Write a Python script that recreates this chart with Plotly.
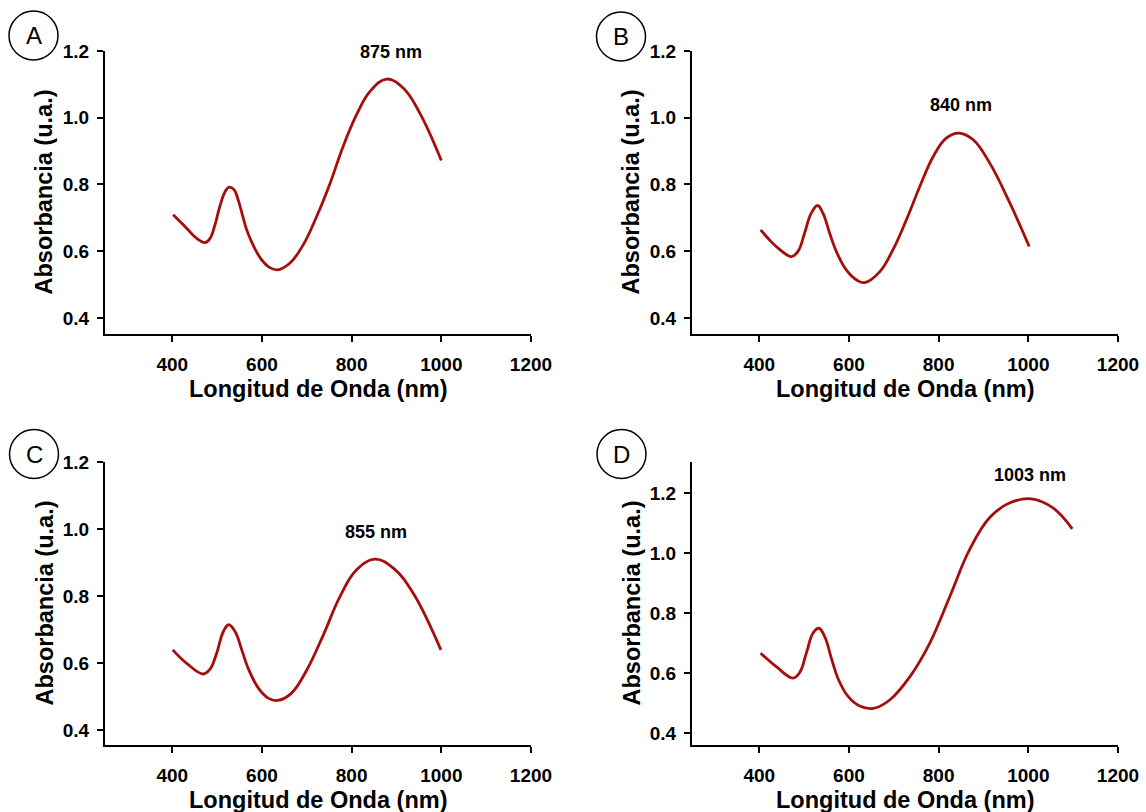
import plotly.graph_objects as go

W, H = 1146, 812

# ---------------- data ----------------
WL_A = [402, 432, 454, 473, 484, 495, 506, 518, 527, 538, 547, 557, 566, 577, 588, 600, 615, 634, 662, 692, 722, 752, 781, 811, 841, 878, 915, 952, 1000]
ABS_A = [0.709, 0.669, 0.639, 0.626, 0.638, 0.678, 0.734, 0.779, 0.792, 0.784, 0.754, 0.706, 0.664, 0.628, 0.598, 0.573, 0.553, 0.544, 0.564, 0.619, 0.704, 0.804, 0.914, 1.009, 1.079, 1.116, 1.089, 1.014, 0.872]

WL_B = [403, 420, 438, 472, 487, 501, 516, 530, 542, 557, 572, 594, 617, 635, 669, 698, 728, 758, 788, 817, 845, 877, 914, 959, 1002]
ABS_B = [0.664, 0.638, 0.614, 0.584, 0.601, 0.654, 0.714, 0.737, 0.714, 0.654, 0.599, 0.544, 0.514, 0.506, 0.539, 0.604, 0.694, 0.794, 0.884, 0.939, 0.954, 0.934, 0.864, 0.744, 0.614]

WL_C = [401, 432, 469, 484, 499, 514, 526, 540, 555, 569, 592, 614, 635, 666, 700, 737, 774, 811, 852, 893, 937, 999]
ABS_C = [0.639, 0.599, 0.567, 0.581, 0.629, 0.694, 0.714, 0.694, 0.639, 0.585, 0.525, 0.495, 0.488, 0.510, 0.579, 0.684, 0.798, 0.878, 0.910, 0.883, 0.809, 0.639]

WL_D = [403, 438, 475, 490, 505, 520, 533, 546, 561, 576, 598, 624, 654, 691, 736, 780, 825, 869, 914, 959, 1007, 1055, 1098]
ABS_D = [0.666, 0.621, 0.583, 0.601, 0.666, 0.733, 0.749, 0.721, 0.648, 0.580, 0.522, 0.490, 0.482, 0.510, 0.588, 0.699, 0.855, 1.011, 1.118, 1.167, 1.180, 1.150, 1.080]

PANELS = ["A", "B", "C", "D"]
PEAK_LABELS = ["875 nm", "840 nm", "855 nm", "1003 nm"]
PEAK_POS = [(888, 1.198), (849, 1.039), (854, 0.992), (1003, 1.261)]
X_TICKS = [400, 600, 800, 1000, 1200]
Y_TICKS = [0.4, 0.6, 0.8, 1.0, 1.2]
X_LABEL = "Longitud de Onda (nm)"
Y_LABEL = "Absorbancia (u.a.)"

SERIES = [(WL_A, ABS_A), (WL_B, ABS_B), (WL_C, ABS_C), (WL_D, ABS_D)]

# ---------------- layout geometry (pixels) ----------------
# (left, right, top, bottom) of each plot area
BOXES = [(105, 531, 51, 334), (692, 1118, 51, 334), (105, 531, 462, 745), (692, 1118, 462, 745)]
YRANGES = [[0.352, 1.2], [0.352, 1.2], [0.355, 1.2], [0.36, 1.303]]
CIRCLES = [(33.5, 35.5), (621, 36.5), (34, 454), (621.5, 454)]

LINE_COLOR = "#A50E0E"
FONT = "Liberation Sans, Arial, sans-serif"

fig = go.Figure()
layout = dict(
    template="none",
    width=W, height=H,
    autosize=False,
    margin=dict(l=0, r=0, t=0, b=0, pad=0, autoexpand=False),
    paper_bgcolor="white", plot_bgcolor="white",
    showlegend=False,
    font=dict(family=FONT, color="black"),
)
annotations = []
shapes = []

for i, ((wl, ab), (l, r, t, b)) in enumerate(zip(SERIES, BOXES)):
    n = i + 1
    xa = "x" if n == 1 else f"x{n}"
    ya = "y" if n == 1 else f"y{n}"
    fig.add_trace(go.Scatter(
        x=wl, y=ab, mode="lines", xaxis=xa, yaxis=ya,
        line=dict(color=LINE_COLOR, width=2.8, shape="spline", smoothing=1.15),
        hoverinfo="skip",
    ))
    axis_common = dict(
        showline=True, linecolor="black", linewidth=2, mirror=False,
        ticks="outside", ticklen=6, tickwidth=2, tickcolor="black",
        showgrid=False, zeroline=False, automargin=False,
        tickfont=dict(family=FONT, size=19, color="black", weight="bold"),
    )
    layout[f"xaxis{'' if n == 1 else n}"] = dict(
        domain=[l / W, r / W], anchor=ya, range=[250, 1200],
        tickvals=X_TICKS, ticktext=[str(v) for v in X_TICKS],
        ticklabelstandoff=6, **axis_common,
    )
    layout[f"yaxis{'' if n == 1 else n}"] = dict(
        domain=[1 - b / H, 1 - t / H], anchor=xa, range=YRANGES[i],
        tickvals=Y_TICKS, ticktext=[f"{v:.1f}" for v in Y_TICKS],
        ticklabelstandoff=4, **axis_common,
    )
    # axis titles
    annotations.append(dict(
        text=X_LABEL, xref="paper", yref="paper",
        x=(l + r) / 2 / W, y=1 - (b + 55) / H, xanchor="center", yanchor="middle",
        showarrow=False, font=dict(family=FONT, size=23.5, color="black", weight="bold"),
    ))
    annotations.append(dict(
        text=Y_LABEL, xref="paper", yref="paper", textangle=-90,
        x=(l - 61) / W, y=1 - (t + b) / 2 / H, xanchor="center", yanchor="middle",
        showarrow=False, font=dict(family=FONT, size=23.5, color="black", weight="bold"),
    ))
    # peak label
    px_, py_ = PEAK_POS[i]
    annotations.append(dict(
        text=PEAK_LABELS[i], xref=xa, yref=ya, x=px_, y=py_,
        xanchor="center", yanchor="middle", showarrow=False,
        font=dict(family=FONT, size=18, color="black", weight="bold"),
    ))
    # panel letter in circle
    cx, cy = CIRCLES[i]
    rad = 24.5
    shapes.append(dict(
        type="circle", xref="paper", yref="paper",
        x0=(cx - rad) / W, x1=(cx + rad) / W,
        y0=1 - (cy + rad) / H, y1=1 - (cy - rad) / H,
        line=dict(color="black", width=1.5), fillcolor="white",
    ))
    annotations.append(dict(
        text=PANELS[i], xref="paper", yref="paper",
        x=cx / W, y=1 - cy / H, xanchor="center", yanchor="middle",
        showarrow=False, font=dict(family=FONT, size=24, color="black"),
    ))

layout["annotations"] = annotations
layout["shapes"] = shapes
fig.update_layout(**layout)

fig.write_html("out.html")
